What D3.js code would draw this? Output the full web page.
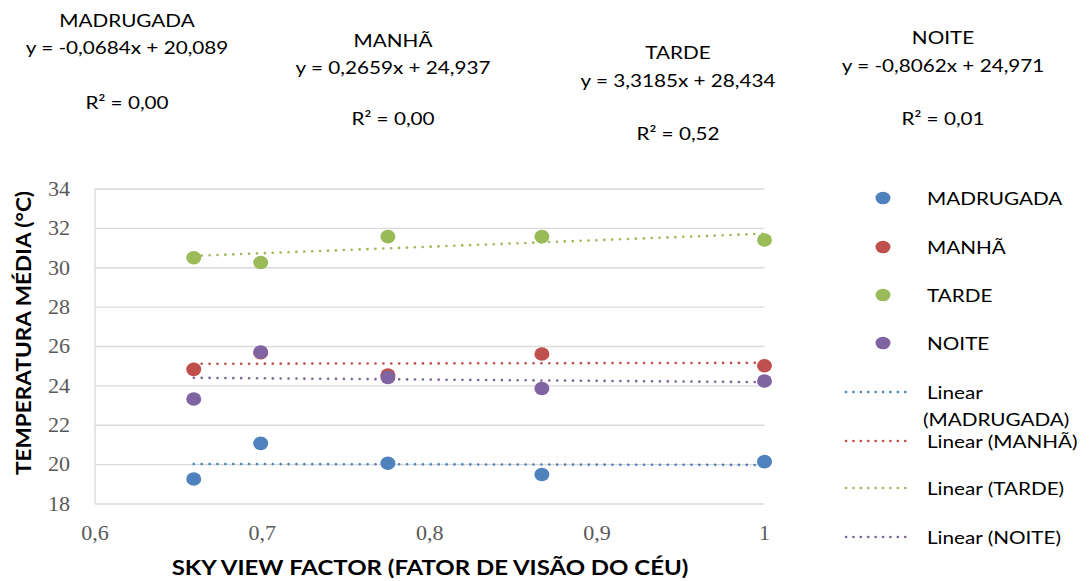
<!DOCTYPE html>
<html><head><meta charset="utf-8">
<script src="https://cdn.jsdelivr.net/npm/d3@7"></script>
<style>body{margin:0;background:#fff}svg{display:block}</style>
</head><body>
<svg id="c" width="1089" height="581"></svg>
<script>
// ---- data ----
const seriesNames = ["MADRUGADA", "MANHÃ", "TARDE", "NOITE"];
const svfValues = [0.659, 0.699, 0.775, 0.867, 1.0];
const madrugadaValues = [19.27, 21.08, 20.07, 19.50, 20.15];
const manhaValues = [24.84, 25.68, 24.55, 25.62, 25.02];
const tardeValues = [30.51, 30.27, 31.58, 31.58, 31.41];
const noiteValues = [23.33, 25.72, 24.43, 23.87, 24.25];
const equationLabels = ["y = -0,0684x + 20,089", "y = 0,2659x + 24,937", "y = 3,3185x + 28,434", "y = -0,8062x + 24,971"];
const r2Labels = ["R² = 0,00", "R² = 0,00", "R² = 0,52", "R² = 0,01"];
const yTicks = [18, 20, 22, 24, 26, 28, 30, 32, 34];
const xTicks = [0.6, 0.7, 0.8, 0.9, 1.0];
const xTitle = "SKY VIEW FACTOR (FATOR DE VISÃO DO CÉU)";
const yTitle = "TEMPERATURA MÉDIA (°C)";

const colors = ["#4F81BD", "#C0504D", "#9BBB59", "#8064A2"];
const allValues = [madrugadaValues, manhaValues, tardeValues, noiteValues];

const svg = d3.select("#c");
const x = d3.scaleLinear().domain([0.6, 1.0]).range([95, 764.5]);
const y = d3.scaleLinear().domain([18, 34]).range([504, 189]);
const FONT = "Lato, 'Open Sans', sans-serif";
const SX = 1.15; // horizontal stretch of the reference text

function stext(g, tx, ty, str, opts) {
  const t = g.append("text")
    .attr("transform", `translate(${tx},${ty}) scale(${opts.sx || SX},1)`)
    .attr("text-anchor", opts.anchor || "middle")
    .attr("dominant-baseline", "central")
    .attr("font-family", opts.family || FONT)
    .attr("font-size", opts.size || 18)
    .attr("font-weight", opts.weight || "normal")
    .attr("fill", opts.fill || "#000")
    .text(str);
  return t;
}

// gridlines
svg.append("g").selectAll("line").data(yTicks).join("line")
  .attr("x1", x(0.6)).attr("x2", x(1.0))
  .attr("y1", d => y(d)).attr("y2", d => y(d))
  .attr("stroke", "#D9D9D9").attr("stroke-width", 1.3);
svg.append("line").attr("x1", x(0.6)).attr("x2", x(0.6)).attr("y1", y(34)).attr("y2", y(18))
  .attr("stroke", "#D9D9D9").attr("stroke-width", 1.3);

// tick labels
const tickG = svg.append("g");
yTicks.forEach(t => stext(tickG, 70, y(t), String(t), {anchor: "end", size: 21, family: "'Liberation Serif', serif", fill: "#595959", sx: 1.05}));
xTicks.forEach(t => stext(tickG, x(t), 533, d3.format(".1~f")(t).replace(".", ","), {size: 21, family: "'Liberation Serif', serif", fill: "#595959", sx: 1.05}));

// axis titles
stext(svg, 430, 567, xTitle, {size: 20, weight: "bold", sx: 1.2});
svg.append("text")
  .attr("transform", `translate(24,333) rotate(-90) scale(1.13,1)`)
  .attr("text-anchor", "middle").attr("dominant-baseline", "central")
  .attr("font-family", FONT).attr("font-size", 20).attr("font-weight", "bold")
  .attr("fill", "#000").text(yTitle);

// linear fits
function fit(xs, ys) {
  const mx = d3.mean(xs), my = d3.mean(ys);
  const b = d3.sum(xs, (v, i) => (v - mx) * (ys[i] - my)) / d3.sum(xs, v => (v - mx) ** 2);
  return {a: my - b * mx, b};
}
const line = d3.line().x(d => x(d[0])).y(d => y(d[1]));

// points
allValues.forEach((vals, si) => {
  svg.append("g").selectAll("ellipse").data(vals).join("ellipse")
    .attr("cx", (d, i) => x(svfValues[i])).attr("cy", d => y(d))
    .attr("rx", 7.5).attr("ry", 6.8).attr("fill", colors[si]);
});
// trendlines
allValues.forEach((vals, si) => {
  const f = fit(svfValues, vals);
  const x0 = d3.min(svfValues), x1 = d3.max(svfValues);
  svg.append("path").datum([[x0, f.a + f.b * x0], [x1, f.a + f.b * x1]])
    .attr("d", line).attr("fill", "none").attr("stroke", colors[si])
    .attr("stroke-width", 2.6).attr("stroke-linecap", "round")
    .attr("stroke-dasharray", "0.1,7.8");
});

// header labels (trendline labels)
const headerPos = [
  {cx: 127, ty: 20, ey: 47, ry: 102},
  {cx: 393, ty: 40, ey: 67, ry: 118},
  {cx: 678, ty: 52, ey: 80, ry: 133},
  {cx: 943, ty: 37, ey: 65, ry: 118}
];
const hG = svg.append("g");
seriesNames.forEach((n, i) => {
  const p = headerPos[i];
  stext(hG, p.cx, p.ty, n, {size: 18});
  stext(hG, p.cx, p.ey, equationLabels[i], {size: 18});
  stext(hG, p.cx, p.ry, r2Labels[i], {size: 18});
});

// legend
const lg = svg.append("g");
const markerY = [198, 247, 295, 343];
seriesNames.forEach((n, i) => {
  lg.append("ellipse").attr("cx", 883).attr("cy", markerY[i]).attr("rx", 7.5).attr("ry", 6.3).attr("fill", colors[i]);
  stext(lg, 927, markerY[i], n, {anchor: "start", size: 18});
});
const trendY = [392, 441, 488, 537];
seriesNames.forEach((n, i) => {
  lg.append("line").attr("x1", 846).attr("x2", 912).attr("y1", trendY[i]).attr("y2", trendY[i])
    .attr("stroke", colors[i]).attr("stroke-width", 2.6).attr("stroke-linecap", "round")
    .attr("stroke-dasharray", "0.1,7.3");
  if (i === 0) {
    stext(lg, 927, trendY[i], "Linear", {anchor: "start", size: 18});
    stext(lg, 923, trendY[i] + 27, "(" + n + ")", {anchor: "start", size: 18});
  } else {
    stext(lg, 927, trendY[i], "Linear (" + n + ")", {anchor: "start", size: 18});
  }
});
</script>
</body></html>
